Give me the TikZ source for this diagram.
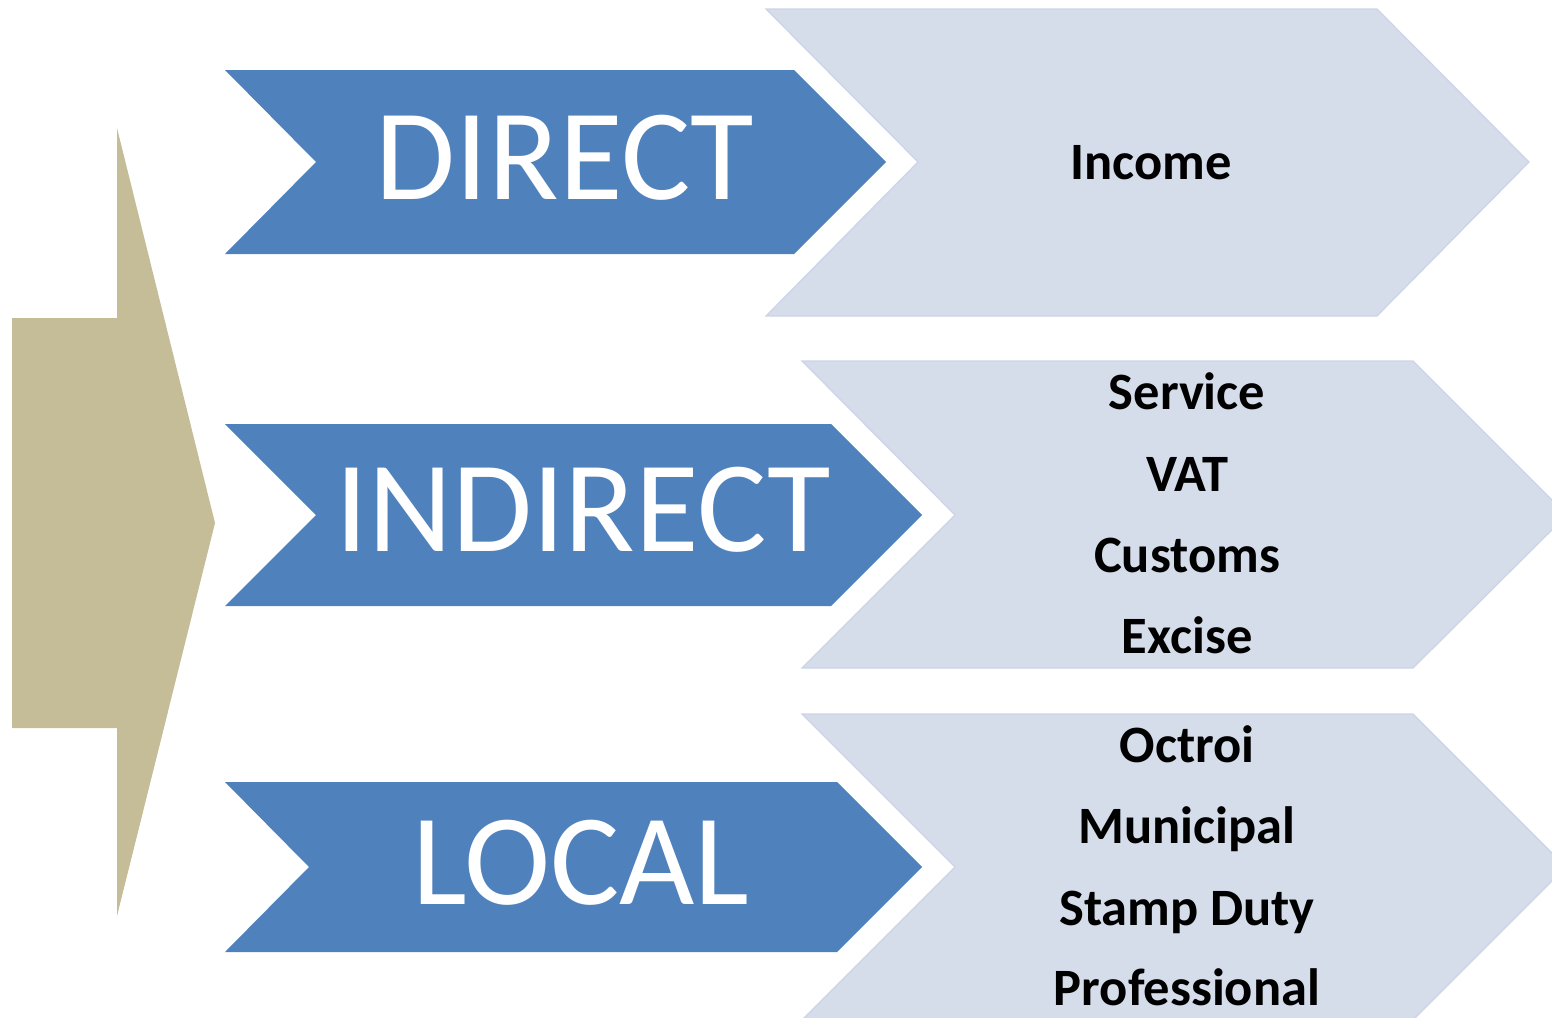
\documentclass[tikz,border=0pt]{standalone}
\usepackage{fontspec}
\setmainfont{Carlito}
\definecolor{tanc}{HTML}{C4BD97}
\definecolor{bluec}{HTML}{4F81BD}
\definecolor{lightc}{HTML}{D5DCEA}
\definecolor{lightb}{HTML}{CCD4E6}
\tikzset{
  bigtxt/.style={text=white, inner sep=0pt, anchor=base, font=\fontsize{130}{130}\selectfont},
  itemtxt/.style={text=black, inner sep=0pt, anchor=base, font=\fontsize{52.5}{52.5}\selectfont\bfseries},
  bluechev/.style={fill=bluec},
  lightchev/.style={fill=lightc, draw=lightb, line width=1.2pt, line join=miter},
}
\begin{document}
\begin{tikzpicture}[x=1pt,y=-1pt]
\useasboundingbox (0,0) rectangle (1552,1017);
\clip (0,0) rectangle (1552,1017);
% big tan arrow
\fill[tanc] (12,318) -- (117,318) -- (117,128) -- (215,523) -- (117,916) -- (117,728) -- (12,728) -- cycle;
% light chevrons
\draw[lightchev] (766,9) -- (1377,9) -- (1529,162) -- (1377,316) -- (766,316) -- (918,162) -- cycle;
\draw[lightchev] (802,361) -- (1413,361) -- (1567,515) -- (1413,668) -- (802,668) -- (955,515) -- cycle;
\draw[lightchev] (802,714) -- (1413,714) -- (1566,867) -- (1413,1020) -- (802,1020) -- (955,867) -- cycle;
% blue chevrons
\fill[bluechev] (225,70) -- (794,70) -- (886,162) -- (794,254) -- (225,254) -- (316,162) -- cycle;
\fill[bluechev] (225,424) -- (831,424) -- (922,515) -- (831,606) -- (225,606) -- (316,515) -- cycle;
\fill[bluechev] (225,782) -- (837,782) -- (922,867) -- (837,952) -- (225,952) -- (309,867) -- cycle;
% labels
\node[bigtxt] (direct) at (565,199) {DIRECT};
\node[bigtxt] (indirect) at (583,551) {INDIRECT};
\node[bigtxt] (local) at (581,904) {LOCAL};
\node[itemtxt] (income) at (1151,179) {Income};
\node[itemtxt] (service) at (1187,409) {Service};
\node[itemtxt] (vat) at (1187,491) {VAT};
\node[itemtxt] (customs) at (1187,572) {Customs};
\node[itemtxt] (excise) at (1187,653) {Excise};
\node[itemtxt] (octroi) at (1187,762) {Octroi};
\node[itemtxt] (municipal) at (1187,843) {Municipal};
\node[itemtxt] (stamp) at (1187,925) {Stamp Duty};
\node[itemtxt] (prof) at (1187,1005) {Professional};
\end{tikzpicture}
\end{document}
